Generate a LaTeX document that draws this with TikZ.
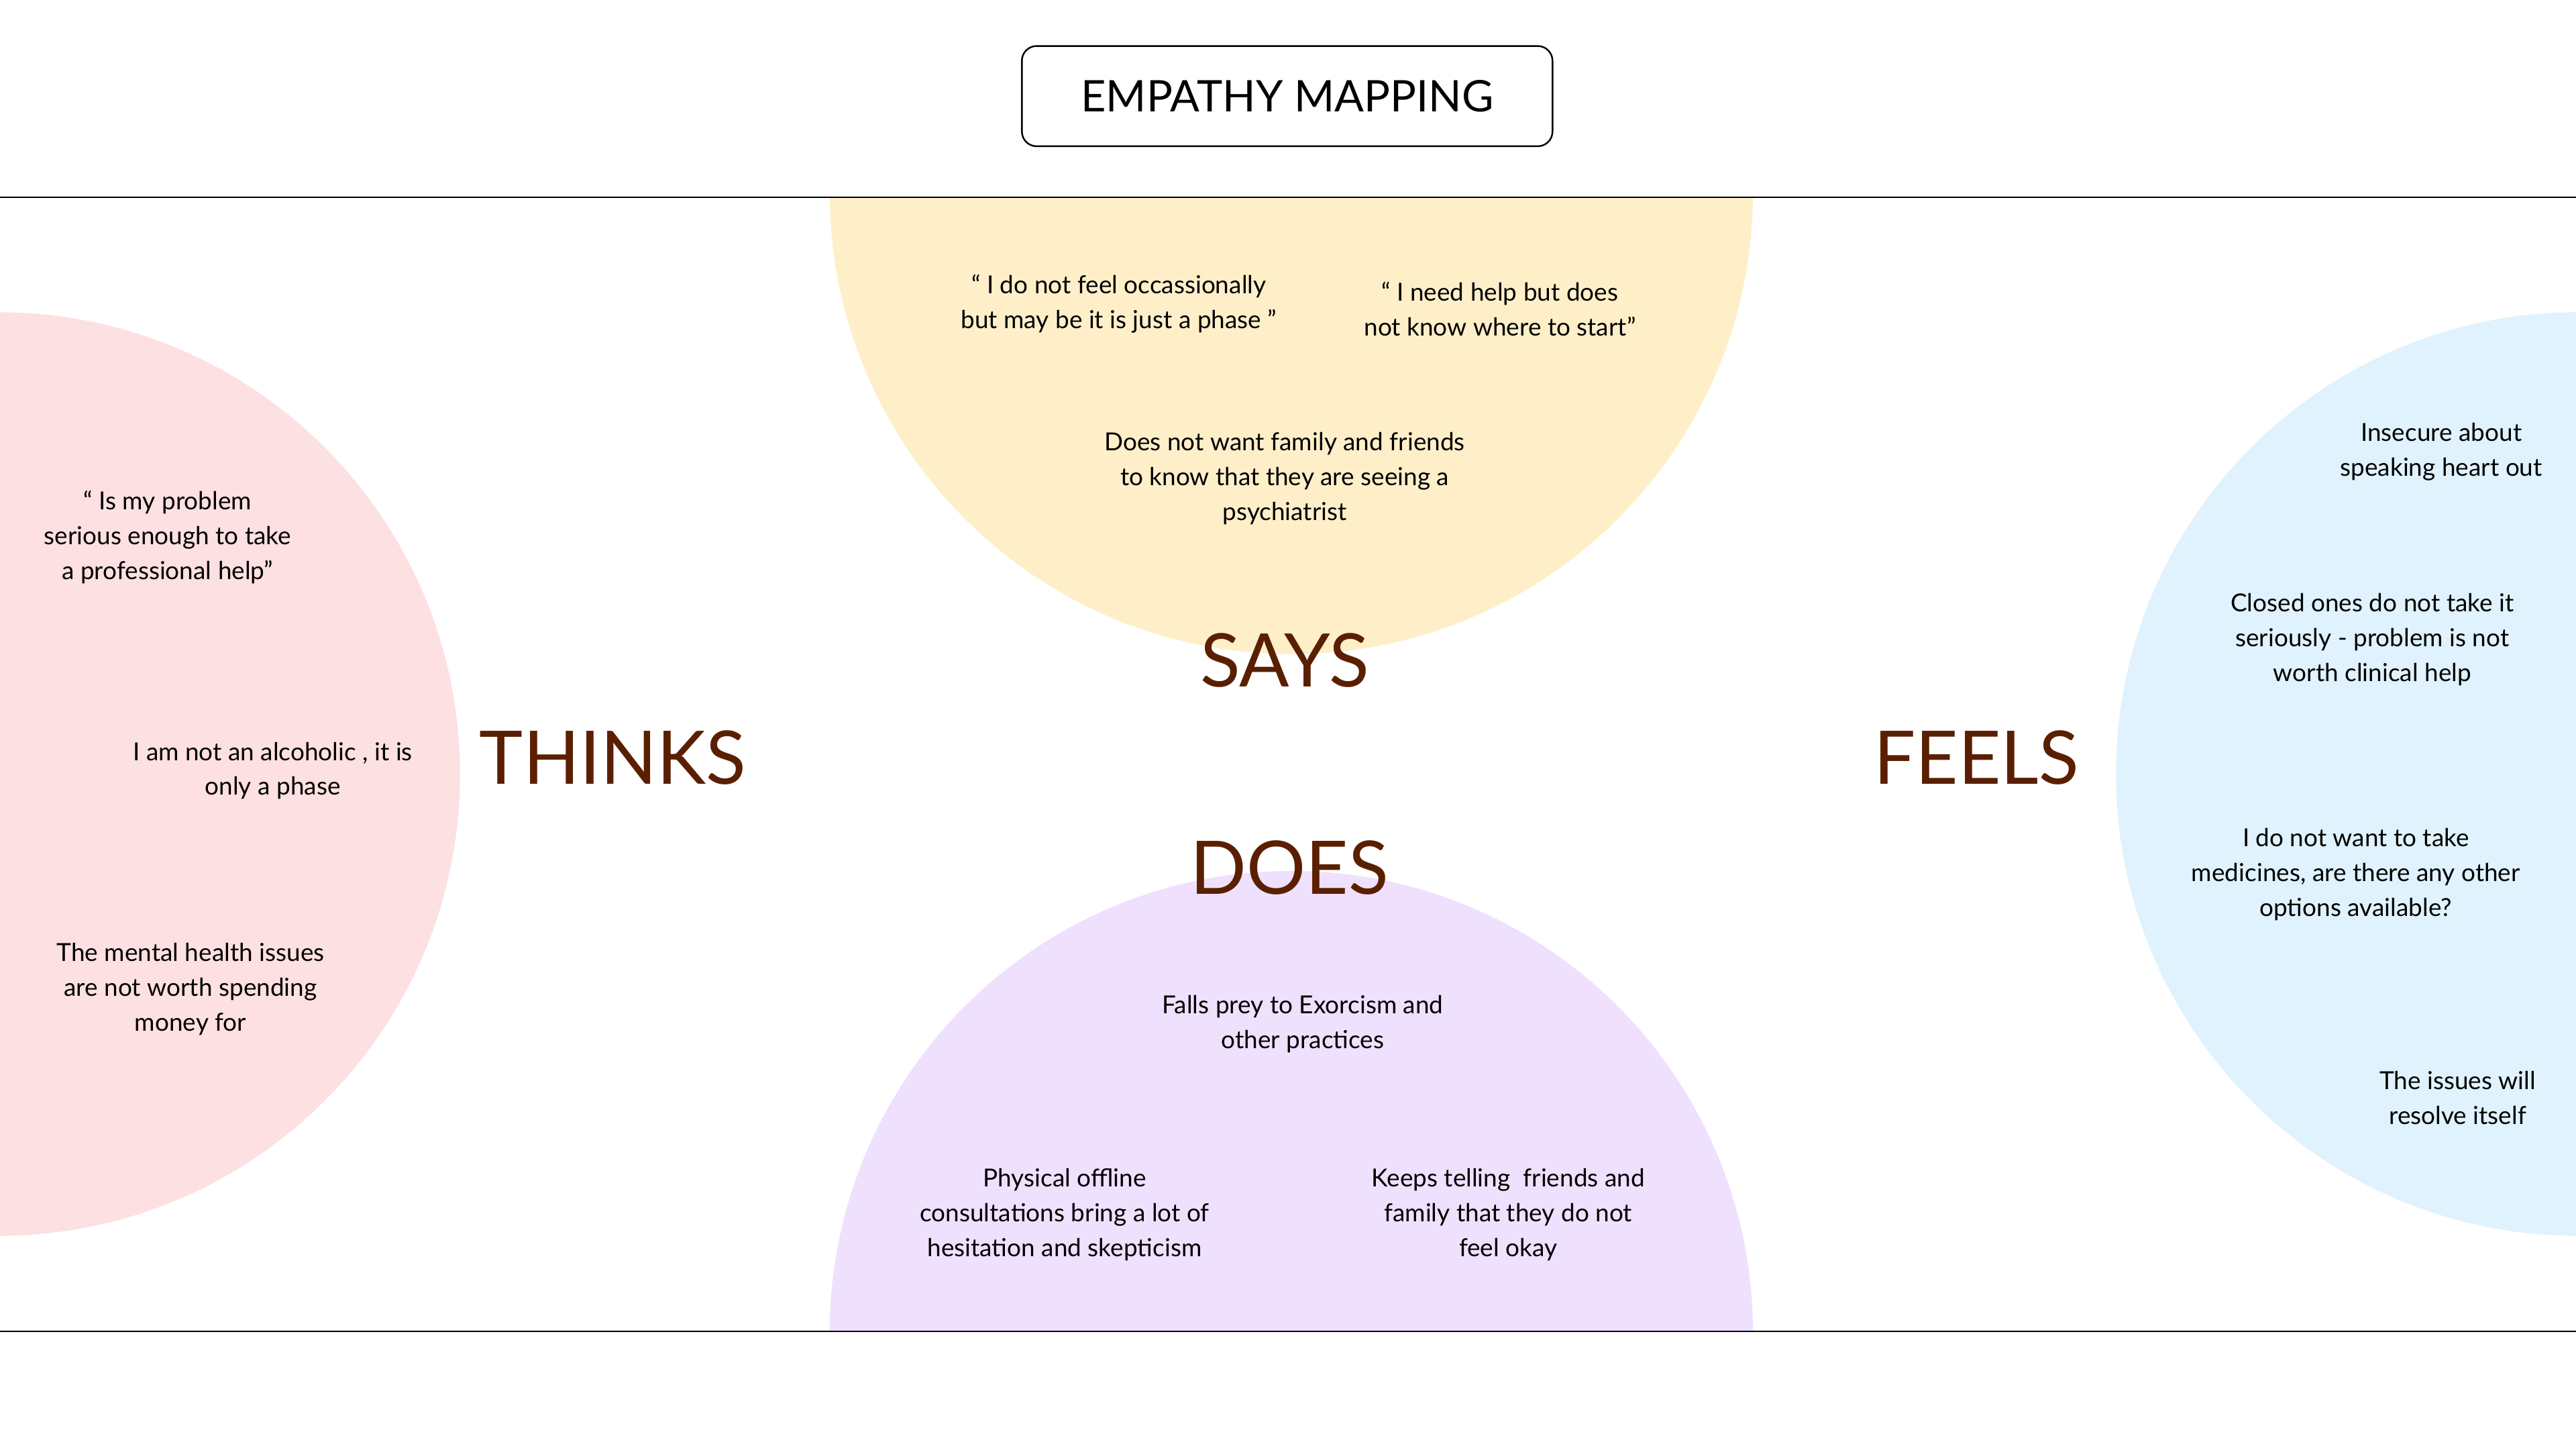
\documentclass[tikz,border=0pt]{standalone}
\usepackage{fontspec}
\setmainfont{Lato}
\newfontfamily\headfont{Lato}
\definecolor{cyellow}{HTML}{FEEFC9}
\definecolor{cpink}{HTML}{FDE0E1}
\definecolor{cblue}{HTML}{DFF2FD}
\definecolor{cpurple}{HTML}{EFE0FD}
\definecolor{cbrown}{HTML}{5A1F00}
\begin{document}
\begin{tikzpicture}[x=1pt,y=-1pt,
  body/.style={align=center,font=\fontsize{15.1}{21.2}\selectfont,text=black,inner sep=0pt},
  head/.style={font=\headfont\fontsize{45}{45}\selectfont,text=cbrown,inner sep=0pt},
  rule/.style={draw=black,line width=0.8pt}]
\useasboundingbox[fill=white] (0,0) rectangle (1568,870);
\begin{scope}
\clip (0,120) rectangle (1568,810);
\fill[cyellow] (786,117) circle (281);
\fill[cpurple] (786,811) circle (281);
\fill[cpink] (-1,471) circle (281);
\fill[cblue] (1569,471) circle (281);
\end{scope}
\coordinate (l1a) at (0,120); \coordinate (l1b) at (1568,120);
\coordinate (l2a) at (0,810); \coordinate (l2b) at (1568,810);
\draw[rule] (l1a) -- (l1b);
\draw[rule] (l2a) -- (l2b);
\node[draw=black,line width=1pt,rounded corners=9pt,minimum width=323pt,minimum height=61pt,
  font=\fontsize{26.5}{26.5}\selectfont] (title) at (783.5,58.5) {EMPATHY MAPPING};
\node[head] (thinks) at (373,461) {THINKS};
\node[head] (says) at (782,402) {SAYS};
\node[head] (does) at (785,528) {DOES};
\node[head] (feels) at (1203,461) {FEELS};
% says
\node[body] (s1) at (681,185) {“ I do not feel occassionally\\but may be it is just a phase ”};
\node[body] (s2) at (913,188) {“ I need help but does\\not know where to start”};
\node[body] (s3) at (782,291) {Does not want family and friends\\to know that they are seeing a\\psychiatrist};
% thinks
\node[body] (t1) at (102,327) {“ Is my problem\\serious enough to take\\a professional help”};
\node[body] (t2) at (166,469) {I am not an alcoholic , it is\\only a phase};
\node[body] (t3) at (116,602) {The mental health issues\\are not worth spending\\money for};
% does
\node[body] (d1) at (793,623) {Falls prey to Exorcism and\\other practices};
\node[body] (d2) at (648,739) {Physical offline\\consultations bring a lot of\\hesitation and skepticism};
\node[body] (d3) at (918,739) {Keeps telling\ \ friends and\\family that they do not\\feel okay};
% feels
\node[body] (f1) at (1486,275) {Insecure about\\speaking heart out};
\node[body] (f2) at (1444,389) {Closed ones do not take it\\seriously - problem is not\\worth clinical help};
\node[body] (f3) at (1434,532) {I do not want to take\\medicines, are there any other\\options available?};
\node[body] (f4) at (1496,668) {The issues will\\resolve itself};
\end{tikzpicture}
\end{document}
